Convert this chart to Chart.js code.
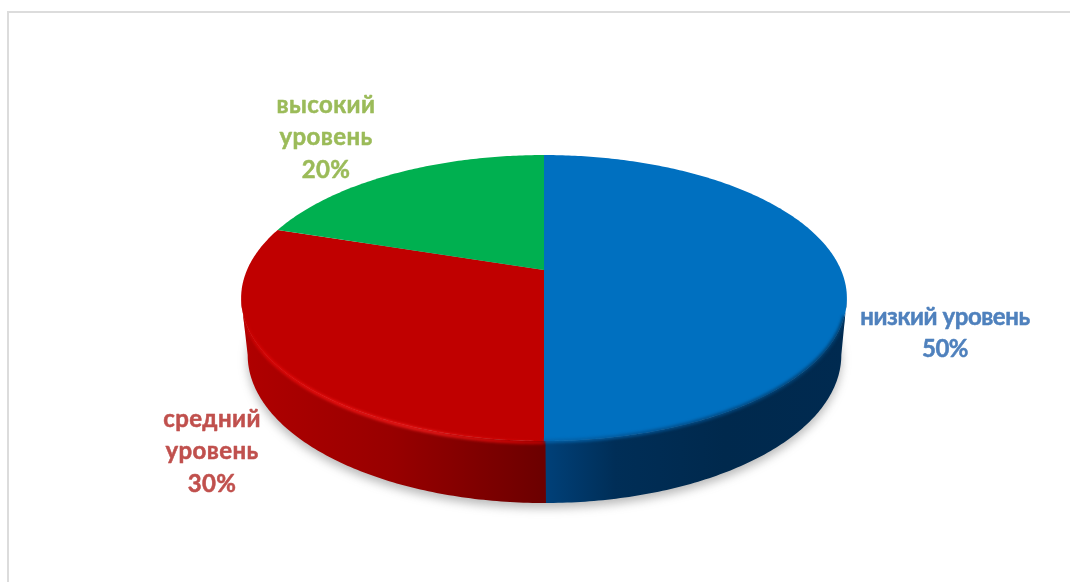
<!DOCTYPE html>
<html><head><meta charset="utf-8">
<style>
html,body{margin:0;padding:0;background:#fff;width:1070px;height:582px;overflow:hidden}
#frame{position:absolute;left:7px;top:11px;width:1063px;height:571px;border-top:2px solid #dcdcdc;border-left:2px solid #dcdcdc;box-sizing:border-box}
canvas{position:absolute;left:0;top:0}
</style>
<script src="https://cdn.jsdelivr.net/npm/chart.js@4"></script>
</head><body>
<div id="frame"></div>
<div style="position:absolute;left:0;top:0;width:1070px;height:582px"><canvas id="c" width="1070" height="582"></canvas></div>
<script>
const categories = ['низкий уровень', 'средний уровень', 'высокий уровень'];
const values = [50, 30, 20];
const topColors = ['#0070c0', '#c00000', '#00b050'];
const labelColors = ['#4f81bd', '#c0504d', '#9bbb59'];
const labelLines = [['низкий уровень', '50%'], ['средний', 'уровень', '30%'], ['высокий', 'уровень', '20%']];
const labelAnchors = [[945, 325], [212, 427], [326, 113]];
const labelSpacing = ['-0.45px', '0.4px', '0.4px'];
const LINE = 32.3;

// perspective view of the disc
const VIEW = {cx: 544, cy: 270, A: 297, B: 137.5, k: -0.196, ex: 544, ey: 298, bx: 544.5, by: 355, sx: 0.98, sy: 1.035, fold: 0.197};
function topPt(a) {
  const u = Math.cos(a), v = Math.sin(a), w = 1 + VIEW.k * v;
  return [VIEW.cx + u * VIEW.A / w, VIEW.cy + v * VIEW.B / w];
}
function botPt(a) {
  const p = topPt(a);
  return [VIEW.bx + (p[0] - VIEW.ex) * VIEW.sx, VIEW.by + (p[1] - VIEW.ey) * VIEW.sy];
}
function rimPoints(fn, a0, a1) {
  const n = Math.max(2, Math.ceil((a1 - a0) * 80)), pts = [];
  for (let i = 0; i <= n; i++) pts.push(fn(a0 + (a1 - a0) * i / n));
  return pts;
}
function trace(ctx, pts, move) {
  pts.forEach((p, i) => (i === 0 && move) ? ctx.moveTo(p[0], p[1]) : ctx.lineTo(p[0], p[1]));
}
function wallGradient(ctx, i) {
  const g = ctx.createLinearGradient(241, 0, 845, 0);
  if (i === 0) { g.addColorStop(0.5, '#00417a'); g.addColorStop(0.62, '#002e57'); g.addColorStop(0.8, '#00294d'); g.addColorStop(1, '#002a50'); }
  else if (i === 1) { g.addColorStop(0, '#b00000'); g.addColorStop(0.25, '#980000'); g.addColorStop(0.5, '#6c0000'); }
  else { g.addColorStop(0, '#007a3a'); g.addColorStop(1, '#007a3a'); }
  return g;
}
const disc3d = {
  id: 'disc3d',
  beforeDatasetsDraw(chart) {
    const ctx = chart.ctx, arcs = chart.getDatasetMeta(0).data;
    const silhouette = () => {
      ctx.beginPath();
      trace(ctx, rimPoints(topPt, -Math.PI / 2, Math.PI * 1.5), true);
      ctx.closePath();
      trace(ctx, rimPoints(topPt, VIEW.fold, Math.PI - VIEW.fold), true);
      trace(ctx, rimPoints(botPt, VIEW.fold, Math.PI - VIEW.fold).reverse(), false);
      ctx.closePath();
    };
    // ground shadow
    ctx.save();
    ctx.filter = 'blur(5px)';
    ctx.fillStyle = 'rgba(90,90,90,0.42)';
    ctx.beginPath();
    trace(ctx, rimPoints(botPt, -Math.PI / 2, Math.PI * 1.5).map(p => [p[0], p[1] + 5]), true);
    ctx.closePath(); ctx.fill();
    ctx.restore();
    // front walls only: between the two silhouette angles the band does not fold
    arcs.forEach((arc, i) => {
      const s = Math.max(arc.startAngle - 0.004, VIEW.fold), e = Math.min(arc.endAngle, Math.PI - VIEW.fold);
      if (e <= s) return;
      ctx.fillStyle = wallGradient(ctx, i);
      ctx.beginPath();
      trace(ctx, rimPoints(topPt, s, e), true);
      trace(ctx, rimPoints(botPt, s, e).reverse(), false);
      ctx.closePath(); ctx.fill();
    });
    // top faces
    arcs.forEach((arc, i) => {
      ctx.fillStyle = topColors[i];
      ctx.beginPath();
      ctx.moveTo(VIEW.cx, VIEW.cy);
      trace(ctx, rimPoints(topPt, arc.startAngle, arc.endAngle), false);
      ctx.closePath(); ctx.fill();
    });
    // soft bevel on the rim
    arcs.forEach((arc, i) => {
      if (i === 2) return;
      ctx.save();
      silhouette();
      ctx.clip();
      ctx.filter = 'blur(1.5px)';
      ctx.lineCap = 'butt';
      let s, e, out;
      if (i === 0) {
        const g = ctx.createLinearGradient(544, 0, 845, 0);
        g.addColorStop(0, '#0364ac'); g.addColorStop(0.4, '#024f8c'); g.addColorStop(1, '#013e6e');
        ctx.strokeStyle = g; ctx.lineWidth = 3.5;
        s = arc.startAngle + Math.PI / 2 + 0.32; e = arc.endAngle; out = 0;
      } else {
        const g = ctx.createLinearGradient(241, 0, 544, 0);
        g.addColorStop(0, '#c00000'); g.addColorStop(0.08, '#de0606'); g.addColorStop(0.3, '#ee1212'); g.addColorStop(0.62, '#f21c1c'); g.addColorStop(0.9, '#d40404'); g.addColorStop(1, '#c00000');
        ctx.strokeStyle = g; ctx.lineWidth = 3.2;
        s = arc.startAngle; e = Math.PI - 0.3; out = 1.5;
      }
      ctx.beginPath();
      trace(ctx, rimPoints(a => {
        const p = topPt(a), dx = p[0] - VIEW.ex, dy = p[1] - VIEW.ey, d = Math.hypot(dx, dy);
        return [p[0] + dx / d * out * 0.2, p[1] + dy / d * out];
      }, s, e), true);
      ctx.stroke();
      ctx.restore();
    });
    // labels
    ctx.save();
    ctx.font = 'bold 24px Lato';
    ctx.textAlign = 'center';
    ctx.textBaseline = 'alphabetic';
    ctx.lineWidth = 0.5;
    ctx.lineJoin = 'round';
    labelLines.forEach((lines, i) => {
      ctx.fillStyle = labelColors[i];
      ctx.strokeStyle = labelColors[i];
      ctx.letterSpacing = labelSpacing[i];
      lines.forEach((t, j) => {
        const y = labelAnchors[i][1] + j * LINE;
        ctx.fillText(t, labelAnchors[i][0], y);
        ctx.strokeText(t, labelAnchors[i][0], y);
      });
    });
    ctx.restore();
    return false;
  }
};
new Chart(document.getElementById('c'), {
  type: 'pie',
  data: {labels: categories, datasets: [{data: values, backgroundColor: topColors, borderWidth: 0}]},
  options: {responsive: false, animation: false, plugins: {legend: {display: false}, tooltip: {enabled: false}}},
  plugins: [disc3d]
});
</script>
</body></html>
